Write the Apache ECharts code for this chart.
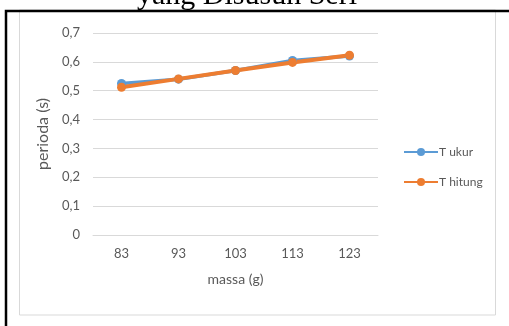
<!DOCTYPE html>
<html>
<head>
<meta charset="utf-8">
<script src="https://cdn.jsdelivr.net/npm/echarts@6/dist/echarts.min.js"></script>
<style>
  html, body { margin: 0; padding: 0; background: #fff; }
  #chart { width: 509px; height: 326px; }
</style>
</head>
<body>
<div id="chart"></div>
<script>
// mass of the load (g) and measured / calculated period (s)
const massa = ['83', '93', '103', '113', '123'];
const tUkur = [0.525, 0.54, 0.57, 0.605, 0.62];
const tHitung = [0.512, 0.541, 0.57, 0.598, 0.623];
const yTicks = { min: 0, max: 0.7, step: 0.1 };

const chart = echarts.init(document.getElementById('chart'), null, { renderer: 'canvas' });
const labelColor = '#595959';
const gridColor = '#d9d9d9';
const font = 'Lato, "Open Sans", sans-serif';

chart.setOption({
  animation: false,
  backgroundColor: '#fff',
  graphic: [
    // caption text clipped at the top of the page
    { type: 'text', left: 137, top: -19, z: 10,
      style: { text: 'yang Disusun Seri', font: '30px "Liberation Serif", "DejaVu Serif", serif', fill: '#000' } },
    // outer black frame (top and left edges)
    { type: 'rect', shape: { x: 6, y: 11, width: 520, height: 330 }, z: 11,
      style: { fill: 'none', stroke: '#000', lineWidth: 2.5 } },
    // light chart-area border
    { type: 'rect', shape: { x: 19.5, y: 10, width: 476, height: 305 }, z: 1,
      style: { fill: 'none', stroke: gridColor, lineWidth: 1 } }
  ],
  legend: {
    orient: 'vertical',
    left: 398,
    top: 141,
    itemWidth: 34,
    itemHeight: 10,
    itemGap: 18,
    textStyle: { color: labelColor, fontFamily: font, fontSize: 12, padding: [0, 0, 0, -4] },
    data: ['T ukur', 'T hitung']
  },
  grid: { left: 93, right: 131, top: 33, bottom: 91 },
  xAxis: {
    type: 'category',
    data: massa,
    name: 'massa (g)',
    nameLocation: 'middle',
    nameGap: 37,
    nameTextStyle: { color: labelColor, fontFamily: font, fontSize: 14 },
    axisLine: { show: true, lineStyle: { color: gridColor, width: 1 } },
    axisTick: { show: false },
    axisLabel: { color: labelColor, fontFamily: font, fontSize: 13, margin: 12 }
  },
  yAxis: {
    type: 'value',
    min: yTicks.min,
    max: yTicks.max,
    interval: yTicks.step,
    name: 'perioda (s)',
    nameLocation: 'middle',
    nameGap: 36,
    nameTextStyle: { color: labelColor, fontFamily: font, fontSize: 16 },
    axisLine: { show: false },
    axisTick: { show: false },
    splitLine: { lineStyle: { color: gridColor, width: 1 } },
    axisLabel: {
      color: labelColor, fontFamily: font, fontSize: 13, margin: 13,
      formatter: v => (v === 0 ? '0' : v.toFixed(1).replace('.', ','))
    }
  },
  series: [
    {
      name: 'T ukur', type: 'line', data: tUkur,
      color: '#5B9BD5',
      symbol: 'circle', symbolSize: 9,
      lineStyle: { width: 3.5, color: '#5B9BD5' },
      itemStyle: { color: '#5B9BD5' }
    },
    {
      name: 'T hitung', type: 'line', data: tHitung,
      color: '#ED7D31',
      symbol: 'circle', symbolSize: 9,
      lineStyle: { width: 4, color: '#ED7D31' },
      itemStyle: { color: '#ED7D31' }
    }
  ]
});
</script>
</body>
</html>
